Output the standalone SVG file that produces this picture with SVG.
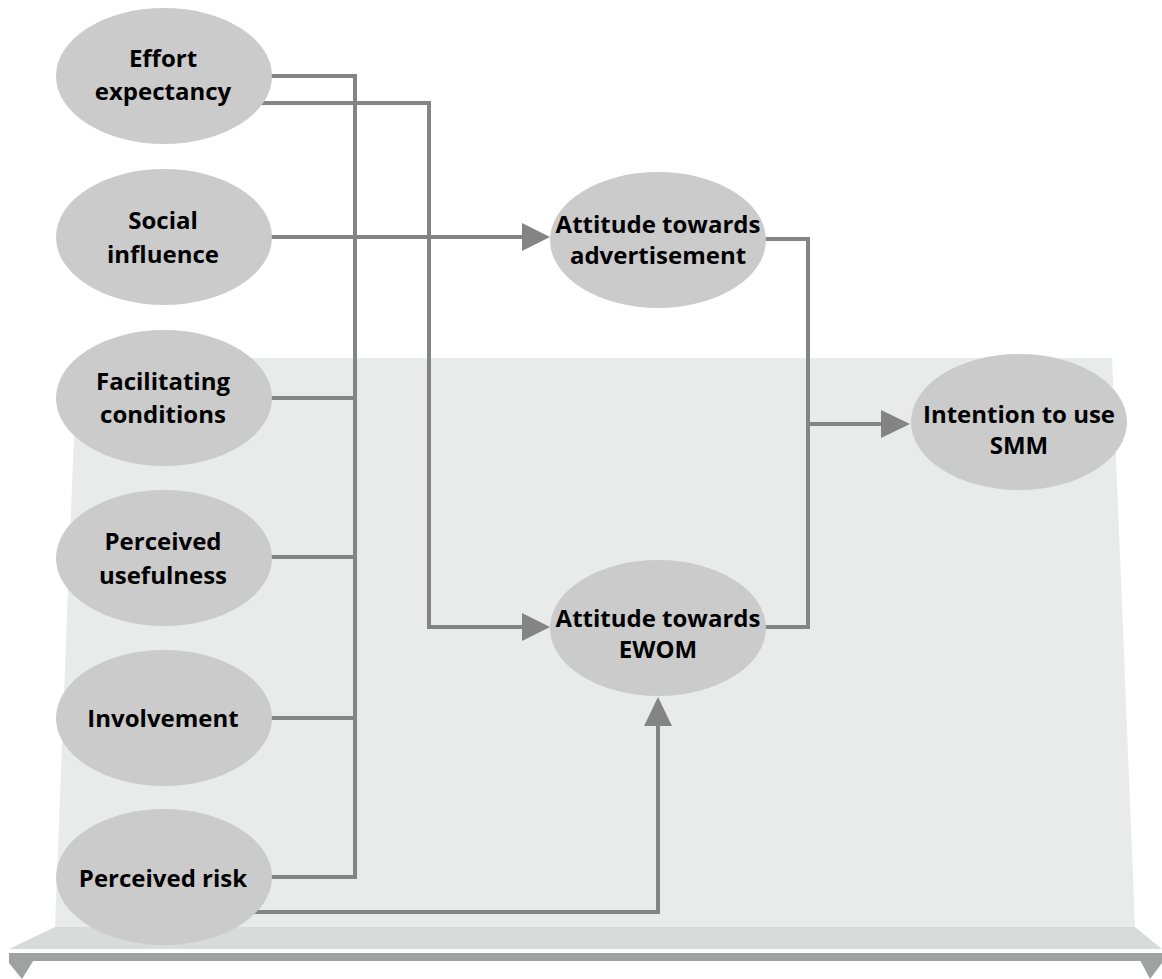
<svg xmlns="http://www.w3.org/2000/svg" width="1162" height="979" viewBox="0 0 1162 979">
<defs>
<style>
.node{fill:#CBCBCB;}
.lbl{font-family:"Open Sans","Liberation Sans",sans-serif;font-weight:700;font-size:24px;fill:#000;text-anchor:middle;}
.ln{fill:none;stroke:#848484;stroke-width:4;stroke-linejoin:miter;}
.ah{fill:#848484;}
</style>
</defs>
<rect width="1162" height="979" fill="#FFFFFF"/>
<g id="base">
<polygon points="77,358 1112,358 1135,927 55,927" fill="#E9EAEA"/>
<polygon points="55,927 1135,927 1162,949 9,949" fill="#D9DADA"/>
<rect x="9" y="953" width="1153" height="8" fill="#A0A1A1"/>
<polygon points="9,958 35,958 22,979 9,963" fill="#A0A1A1"/>
<polygon points="1162,958 1139,958 1150,979 1162,963" fill="#A0A1A1"/>
</g>
<g id="connectors">
<polyline class="ln" points="260,76 355,76 355,877"/>
<polyline class="ln" points="255,103 429,103 429,627 525,627"/>
<line class="ln" x1="265" y1="237" x2="525" y2="237"/>
<line class="ln" x1="265" y1="398" x2="355" y2="398"/>
<line class="ln" x1="265" y1="557" x2="355" y2="557"/>
<line class="ln" x1="265" y1="718" x2="355" y2="718"/>
<line class="ln" x1="265" y1="877" x2="357" y2="877"/>
<polyline class="ln" points="240,912 658,912 658,724"/>
<polyline class="ln" points="760,239 808,239 808,627 760,627"/>
<line class="ln" x1="808" y1="424" x2="884" y2="424"/>
<polygon class="ah" points="522,223 550,237 522,251"/>
<polygon class="ah" points="522,613 550,627 522,641"/>
<polygon class="ah" points="644,726 658,697 672,726"/>
<polygon class="ah" points="881,410 910,424 881,438"/>
</g>
<g id="effort-expectancy">
<ellipse class="node" cx="164" cy="76" rx="108" ry="68"/>
<text class="lbl" x="163" y="67">Effort</text>
<text class="lbl" x="163" y="100">expectancy</text>
</g>
<g id="social-influence">
<ellipse class="node" cx="164" cy="237" rx="108" ry="68"/>
<text class="lbl" x="163" y="229">Social</text>
<text class="lbl" x="163" y="263">influence</text>
</g>
<g id="facilitating-conditions">
<ellipse class="node" cx="164" cy="398" rx="108" ry="68"/>
<text class="lbl" x="163" y="390">Facilitating</text>
<text class="lbl" x="163" y="423">conditions</text>
</g>
<g id="perceived-usefulness">
<ellipse class="node" cx="164" cy="558" rx="108" ry="68"/>
<text class="lbl" x="163" y="550">Perceived</text>
<text class="lbl" x="163" y="584">usefulness</text>
</g>
<g id="involvement">
<ellipse class="node" cx="164" cy="718" rx="108" ry="68"/>
<text class="lbl" x="163" y="727">Involvement</text>
</g>
<g id="perceived-risk">
<ellipse class="node" cx="164" cy="877" rx="108" ry="68"/>
<text class="lbl" x="163" y="887">Perceived risk</text>
</g>
<g id="attitude-advertisement">
<ellipse class="node" cx="658" cy="240" rx="108" ry="68"/>
<text class="lbl" x="658" y="233">Attitude towards</text>
<text class="lbl" x="658" y="264">advertisement</text>
</g>
<g id="attitude-ewom">
<ellipse class="node" cx="658" cy="628" rx="108" ry="68"/>
<text class="lbl" x="658" y="627">Attitude towards</text>
<text class="lbl" x="658" y="658">EWOM</text>
</g>
<g id="intention-smm">
<ellipse class="node" cx="1019" cy="422" rx="108" ry="68"/>
<text class="lbl" x="1019" y="423">Intention to use</text>
<text class="lbl" x="1019" y="454">SMM</text>
</g>
</svg>
